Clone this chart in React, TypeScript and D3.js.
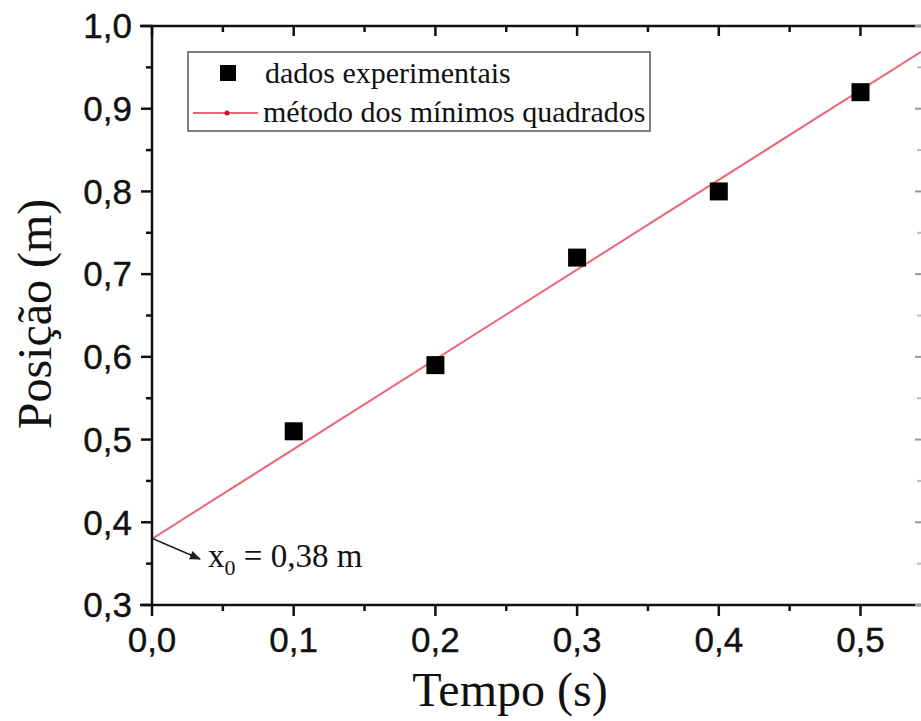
import React from "react";
import * as d3 from "d3";

const times = [0.1, 0.2, 0.3, 0.4, 0.5];
const positions = [0.51, 0.59, 0.72, 0.8, 0.92];
const fitIntercept = 0.38;
const fitSlope = 1.085;
const xTicks = [0, 0.1, 0.2, 0.3, 0.4, 0.5];
const yTicks = [0.3, 0.4, 0.5, 0.6, 0.7, 0.8, 0.9, 1.0];
const legendLabels = ["dados experimentais", "método dos mínimos quadrados"];

const W = 921, H = 721;
const L = 152, R = 921, T = 26, B = 605;

export default function App() {
  const x = d3.scaleLinear().domain([0, 0.5427]).range([L, R]);
  const y = d3.scaleLinear().domain([0.3, 1.0]).range([B, T]);
  const fmt = (v: number, d = 1) => v.toFixed(d).replace(".", ",");
  const xMinor = d3.range(0.05, 0.55, 0.1);
  const yMinor = d3.range(0.35, 1.0, 0.1);
  const xEnd = 0.5427;
  const line = d3.line<number>().x((d) => x(d)).y((d) => y(fitIntercept + fitSlope * d));
  const sans = "Liberation Sans, Arial, sans-serif";
  const serif = "Liberation Serif, Times New Roman, serif";
  const red = "#ec6677";
  return (
    <svg width={W} height={H} style={{ position: "absolute", left: 0, top: 0, background: "#fff" }}>
      <defs>
        <clipPath id="plot">
          <rect x={L} y={T} width={R - L} height={B - T} />
        </clipPath>
        <marker id="ah" viewBox="0 0 10 10" refX="9" refY="5" markerWidth="7" markerHeight="7" orient="auto">
          <path d="M0,1 L10,5 L0,9 z" fill="#222" />
        </marker>
      </defs>
      <rect width={W} height={H} fill="#fff" />
      {/* fit line */}
      <path d={line([0, xEnd]) || ""} stroke={red} strokeWidth={2} fill="none" clipPath="url(#plot)" />
      {/* data points */}
      {times.map((t, i) => (
        <rect key={i} x={x(t) - 9} y={y(positions[i]) - 9} width={18} height={18} fill="#000" />
      ))}
      {/* axes */}
      <line x1={L} y1={T} x2={L} y2={B + 1} stroke="#111" strokeWidth={2.5} />
      <line x1={L - 12} y1={B} x2={R} y2={B} stroke="#111" strokeWidth={2.5} />
      <line x1={L - 12} y1={T} x2={R} y2={T} stroke="#111" strokeWidth={2.5} />
      {/* y ticks */}
      {yTicks.map((v) => (
        <g key={"y" + v}>
          <line x1={L - 11} x2={L} y1={y(v)} y2={y(v)} stroke="#111" strokeWidth={2.5} />
          <line x1={R - 6} x2={R} y1={y(v)} y2={y(v)} stroke="#999" strokeWidth={2} />
          <text x={L - 20} y={y(v)} dy="0.35em" textAnchor="end" fontFamily={sans} fontSize={35} fill="#111" stroke="#111" strokeWidth={0.4}>
            {fmt(v)}
          </text>
        </g>
      ))}
      {yMinor.map((v) => (
        <g key={"ym" + v}>
          <line x1={L - 6} x2={L} y1={y(v)} y2={y(v)} stroke="#111" strokeWidth={2.5} />
          <line x1={R - 4} x2={R} y1={y(v)} y2={y(v)} stroke="#bbb" strokeWidth={2} />
        </g>
      ))}
      {/* x ticks */}
      {xTicks.map((v) => (
        <g key={"x" + v}>
          <line x1={x(v)} x2={x(v)} y1={B} y2={B + 11} stroke="#111" strokeWidth={2.5} />
          <line x1={x(v)} x2={x(v)} y1={T} y2={T + 10} stroke="#111" strokeWidth={2.5} />
          <text x={x(v)} y={B + 47} textAnchor="middle" fontFamily={sans} fontSize={35} fill="#111" stroke="#111" strokeWidth={0.4}>
            {fmt(v)}
          </text>
        </g>
      ))}
      {xMinor.map((v) => (
        <g key={"xm" + v}>
          <line x1={x(v)} x2={x(v)} y1={B} y2={B + 6} stroke="#111" strokeWidth={2.5} />
          <line x1={x(v)} x2={x(v)} y1={T} y2={T + 6} stroke="#111" strokeWidth={2.5} />
        </g>
      ))}
      {/* axis titles */}
      <text x={510} y={706} textAnchor="middle" fontFamily={serif} fontSize={48} fill="#111">
        Tempo (s)
      </text>
      <text transform="translate(51,314) rotate(-90)" textAnchor="middle" fontFamily={serif} fontSize={48} fill="#111">
        Posição (m)
      </text>
      {/* legend */}
      <rect x={188} y={52} width={462} height={79} fill="#fff" stroke="#555" strokeWidth={1.5} />
      <rect x={220} y={65} width={16} height={16} fill="#000" />
      <text x={265} y={83} fontFamily={serif} fontSize={30} fill="#111">{legendLabels[0]}</text>
      <line x1={193} x2={258} y1={113} y2={113} stroke={red} strokeWidth={2} />
      <circle cx={227} cy={113} r={2.5} fill="#d0102a" />
      <text x={263} y={122} fontFamily={serif} fontSize={30} fill="#111">{legendLabels[1]}</text>
      {/* annotation */}
      <line x1={x(0) + 1} y1={y(fitIntercept)} x2={200} y2={559} stroke="#222" strokeWidth={1.6} markerEnd="url(#ah)" />
      <text x={208} y={567} fontFamily={serif} fontSize={33} fill="#111">
        x<tspan fontSize={22} dy={8}>0</tspan>
        <tspan dy={-8}> = {fmt(fitIntercept, 2)} m</tspan>
      </text>
    </svg>
  );
}
